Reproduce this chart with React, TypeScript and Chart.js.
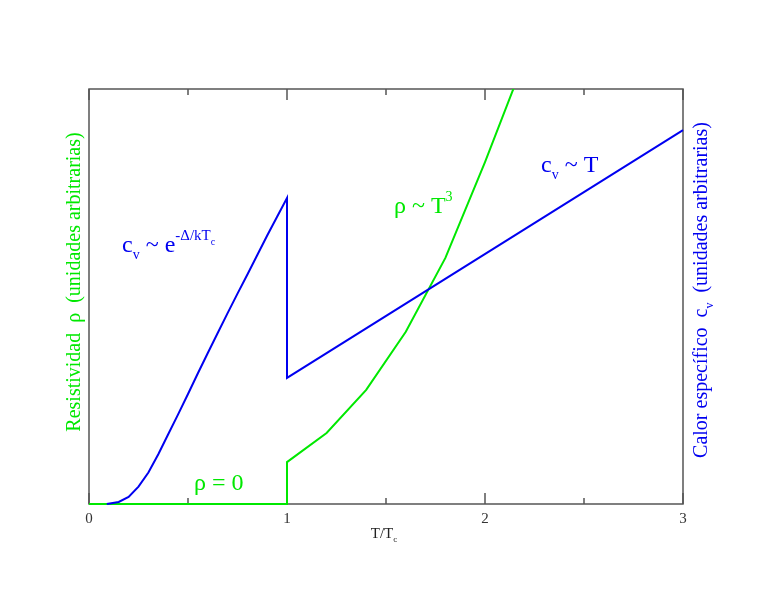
import React, { useEffect, useRef } from "react";
import { Chart, registerables } from "chart.js";

Chart.register(...registerables);

// Specific heat c_v (blue), arbitrary units
const cvT = [0.09, 0.15, 0.2, 0.25, 0.3, 0.35, 0.4, 0.45, 0.5, 0.55, 0.6, 0.65, 0.7, 0.75, 0.8, 0.85, 0.9, 0.95, 1.0, 1.0, 3.0];
const cvValues = [0, 0.5, 1.7, 4.2, 7.6, 12.0, 16.8, 21.6, 26.5, 31.5, 36.4, 41.2, 46.0, 50.7, 55.3, 60.0, 64.7, 69.2, 73.7, 30.4, 90.1];

// Resistivity rho (green), arbitrary units
const rhoT = [0, 1.0, 1.0, 1.2, 1.4, 1.6, 1.8, 2.0, 2.2];
const rhoValues = [0, 0, 10.1, 17.1, 27.5, 41.5, 59.3, 82.4, 107];

const xMajorTicks = [0, 1, 2, 3];
const xMinorTicks = [0.5, 1.5, 2.5];
const xTickLabels = ["0", "1", "2", "3"];

const GREEN = "#00e800";
const BLUE = "#0000f0";
const SERIF = "'Liberation Serif', 'DejaVu Serif', serif";

type Run = { t: string; size: number; dy: number };

function runsWidth(ctx: CanvasRenderingContext2D, runs: Run[]) {
  let w = 0;
  for (const r of runs) {
    ctx.font = `${r.size}px ${SERIF}`;
    w += ctx.measureText(r.t).width;
  }
  return w;
}

function drawRuns(ctx: CanvasRenderingContext2D, x: number, y: number, runs: Run[], color: string) {
  ctx.fillStyle = color;
  ctx.textBaseline = "alphabetic";
  ctx.textAlign = "left";
  let cx = x;
  for (const r of runs) {
    ctx.font = `${r.size}px ${SERIF}`;
    ctx.fillText(r.t, cx, y + r.dy);
    cx += ctx.measureText(r.t).width;
  }
}

const decorPlugin = {
  id: "decor",
  beforeDatasetsDraw(chart: any) {
    const ctx: CanvasRenderingContext2D = chart.ctx;
    const { left, right, top, bottom } = chart.chartArea;
    const xs = chart.scales.x;
    ctx.save();
    ctx.strokeStyle = "#555555";
    ctx.lineWidth = 1.5;
    ctx.strokeRect(left, top, right - left, bottom - top);
    for (const v of xMajorTicks) {
      const px = Math.round(xs.getPixelForValue(v));
      ctx.beginPath();
      ctx.moveTo(px, bottom);
      ctx.lineTo(px, bottom - 11);
      ctx.moveTo(px, top);
      ctx.lineTo(px, top + 11);
      ctx.stroke();
    }
    for (const v of xMinorTicks) {
      const px = Math.round(xs.getPixelForValue(v));
      ctx.beginPath();
      ctx.moveTo(px, bottom);
      ctx.lineTo(px, bottom - 6);
      ctx.moveTo(px, top);
      ctx.lineTo(px, top + 6);
      ctx.stroke();
    }
    ctx.restore();
  },
  afterDatasetsDraw(chart: any) {
    const ctx: CanvasRenderingContext2D = chart.ctx;
    const { left, right, top, bottom } = chart.chartArea;
    const xs = chart.scales.x;
    ctx.save();
    // tick labels
    ctx.font = `15px ${SERIF}`;
    ctx.fillStyle = "#333333";
    ctx.textAlign = "center";
    ctx.textBaseline = "alphabetic";
    xMajorTicks.forEach((v, i) => {
      ctx.fillText(xTickLabels[i], xs.getPixelForValue(v), bottom + 19);
    });
    // x title
    const xt: Run[] = [
      { t: "T/T", size: 15, dy: 0 },
      { t: "c", size: 9, dy: 4 },
    ];
    const xw = runsWidth(ctx, xt);
    drawRuns(ctx, (left + right) / 2 - xw / 2 - 2, bottom + 34, xt, "#222222");

    // left title
    const lt: Run[] = [{ t: "Resistividad  ρ  (unidades arbitrarias)", size: 20, dy: 0 }];
    ctx.save();
    ctx.translate(80, 282);
    ctx.rotate(-Math.PI / 2);
    const lw = runsWidth(ctx, lt);
    drawRuns(ctx, -lw / 2, 0, lt, GREEN);
    ctx.restore();

    // right title
    const rt: Run[] = [
      { t: "Calor específico  c", size: 20, dy: 0 },
      { t: "v", size: 12, dy: 6 },
      { t: "  (unidades arbitrarias)", size: 20, dy: 0 },
    ];
    ctx.save();
    ctx.translate(707, 290);
    ctx.rotate(-Math.PI / 2);
    const rw = runsWidth(ctx, rt);
    drawRuns(ctx, -rw / 2, 0, rt, BLUE);
    ctx.restore();

    // annotations
    drawRuns(ctx, 122, 252, [
      { t: "c", size: 24, dy: 0 },
      { t: "v", size: 14, dy: 7 },
      { t: " ~ e", size: 24, dy: 0 },
      { t: "-Δ/kT", size: 15, dy: -12 },
      { t: "c", size: 10, dy: -7 },
    ], BLUE);
    drawRuns(ctx, 541, 172, [
      { t: "c", size: 24, dy: 0 },
      { t: "v", size: 14, dy: 7 },
      { t: " ~ T", size: 24, dy: 0 },
    ], BLUE);
    drawRuns(ctx, 394, 213, [
      { t: "ρ ~ T", size: 24, dy: 0 },
      { t: "3", size: 14, dy: -12 },
    ], GREEN);
    drawRuns(ctx, 194, 490, [{ t: "ρ = 0", size: 24, dy: 0 }], GREEN);
    ctx.restore();
  },
};

export default function App() {
  const ref = useRef<HTMLCanvasElement | null>(null);
  useEffect(() => {
    if (!ref.current) return;
    const chart = new Chart(ref.current, {
      type: "line",
      data: {
        datasets: [
          {
            label: "cv",
            data: cvT.map((t, i) => ({ x: t, y: cvValues[i] })),
            borderColor: BLUE,
            borderWidth: 2,
            pointRadius: 0,
            tension: 0,
            fill: false,
            clip: { left: 2, top: 2, right: 2, bottom: 2 } as any,
            order: 1,
          },
          {
            label: "rho",
            data: rhoT.map((t, i) => ({ x: t, y: rhoValues[i] })),
            borderColor: GREEN,
            borderWidth: 2,
            pointRadius: 0,
            tension: 0,
            fill: false,
            clip: { left: 2, top: 0, right: 2, bottom: 2 } as any,
            order: 2,
          },
        ],
      },
      options: {
        responsive: false,
        animation: false,
        devicePixelRatio: 1,
        layout: { padding: { left: 89, right: 85, top: 89, bottom: 90 } },
        plugins: { legend: { display: false }, tooltip: { enabled: false } },
        scales: {
          x: { type: "linear", min: 0, max: 3, display: false },
          y: { type: "linear", min: 0, max: 100, display: false },
        },
      },
      plugins: [decorPlugin],
    });
    return () => chart.destroy();
  }, []);
  return (
    <div style={{ position: "fixed", left: 0, top: 0, width: 768, height: 594, background: "#fff" }}>
      <canvas ref={ref} width={768} height={594} />
    </div>
  );
}
